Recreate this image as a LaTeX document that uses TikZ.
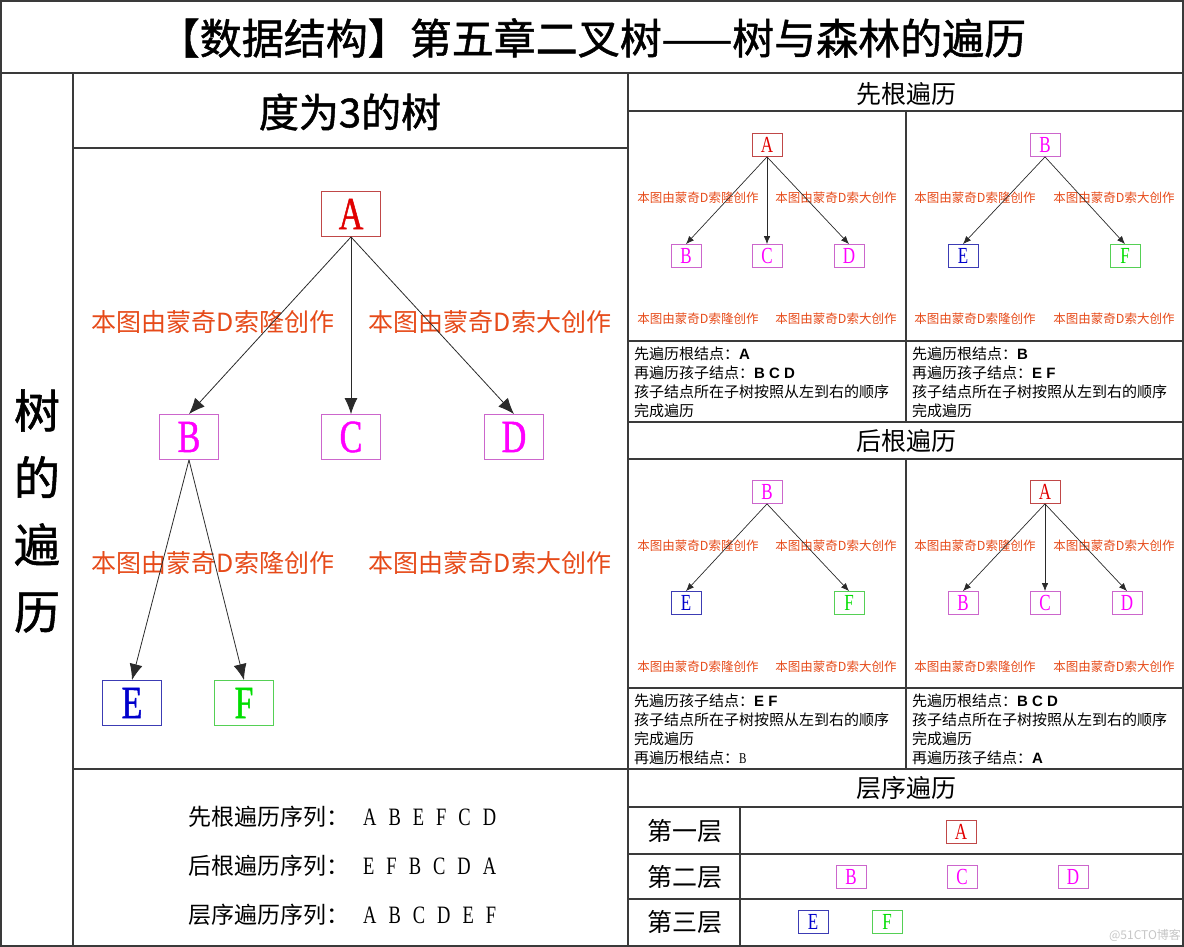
\documentclass[tikz,border=0pt]{standalone}
\usepackage{fontspec}
\setmainfont{Liberation Serif}[FakeStretch=0.74]
\newfontfamily\lettersf{Liberation Serif}[FakeStretch=0.74, FakeBold=1]
\newfontfamily\cjk{Noto Sans CJK SC}
\newfontfamily\cjkheavy{Noto Sans CJK SC}[FakeBold=1.2]
\newfontfamily\hei{Liberation Sans}
\usepackage{tikz}
\usetikzlibrary{arrows.meta,positioning}
\definecolor{gridline}{HTML}{3A3A3A}
\definecolor{edgeline}{HTML}{2A2A2A}
\definecolor{credit}{HTML}{E64A19}
\definecolor{rootred}{HTML}{E00000}
\definecolor{rootredline}{HTML}{C04848}
\definecolor{kidpink}{HTML}{FF00FF}
\definecolor{kidpinkline}{HTML}{CC66CC}
\definecolor{leafblue}{HTML}{0000CC}
\definecolor{leafblueline}{HTML}{3C3CB4}
\definecolor{leafgreen}{HTML}{00DD00}
\definecolor{leafgreenline}{HTML}{55D055}
\newcommand{\sz}[1]{\fontsize{#1}{#1}\selectfont}
\newcommand{\gap}{\hspace{12pt}}
\newcommand{\creditpair}[5]{%
    % #1=name, #2=x left, #3=x right, #4=y, #5=style
    \node[#5] (#1l) at (#2,#4) {本图由蒙奇D索隆创作};
    \node[#5] (#1r) at (#3,#4) {本图由蒙奇D索大创作};
}

\begin{document}
\begin{tikzpicture}[x=1pt, y=-1pt,
    cellline/.style={draw=gridline, line width=1.4pt},
    bigtitle/.style={font=\cjkheavy\sz{42}, inner sep=0pt},
    bighead/.style={font=\cjkheavy\sz{40}, inner sep=0pt},
    colhead/.style={font=\cjk\sz{25}, inner sep=0pt},
    bignode/.style={draw, line width=0.9pt, minimum width=59pt, minimum height=45pt, inner sep=0pt, font=\lettersf\sz{46}},
    tinynode/.style={draw, line width=0.8pt, minimum width=30pt, minimum height=23pt, inner sep=0pt, font=\sz{23}},
    redn/.style={text=rootred, draw=rootredline},
    pinkn/.style={text=kidpink, draw=kidpinkline},
    bluen/.style={text=leafblue, draw=leafblueline},
    greenn/.style={text=leafgreen, draw=leafgreenline},
    bigcredit/.style={text=credit, font=\cjk\sz{25}, inner sep=0pt},
    tinycredit/.style={text=credit, font=\cjk\sz{12.5}, inner sep=0pt},
    bigarr/.style={draw=edgeline, line width=0.8pt, -{Latex[length=16pt,width=13pt]}},
    tinyarr/.style={draw=edgeline, line width=0.7pt, -{Latex[length=8pt,width=6.5pt]}},
    note/.style={font=\cjk\fontsize{15}{19}\selectfont, align=left, anchor=west, inner sep=0pt},
    seqline/.style={font=\sz{25}, anchor=west, inner sep=0pt},
    levellabel/.style={font=\cjk\sz{25}, inner sep=0pt}
]
    \useasboundingbox (0,0) rectangle (1184,947);

    % table frame
    \draw[cellline] (1,1) rectangle (1183,946);
    \draw[cellline] (1,73) -- (1183,73);
    \draw[cellline] (73,73) -- (73,946);
    \draw[cellline] (628,73) -- (628,946);
    \draw[cellline] (73,148) -- (628,148);
    \draw[cellline] (73,769) -- (1183,769);
    \draw[cellline] (628,111) -- (1183,111);
    \draw[cellline] (906,111) -- (906,422);
    \draw[cellline] (628,341) -- (1183,341);
    \draw[cellline] (628,422) -- (1183,422);
    \draw[cellline] (628,459) -- (1183,459);
    \draw[cellline] (906,459) -- (906,769);
    \draw[cellline] (628,688) -- (1183,688);
    \draw[cellline] (628,807) -- (1183,807);
    \draw[cellline] (740,807) -- (740,946);
    \draw[cellline] (628,854) -- (1183,854);
    \draw[cellline] (628,899) -- (1183,899);

    \node[bigtitle] (title) at (592,38) {【数据结构】第五章二叉树——树与森林的遍历};
    \node[font=\cjkheavy\fontsize{46}{67}\selectfont, align=center, inner sep=0pt] (side) at (37,511) {树\\的\\遍\\历};
    \node[bighead] (treehead) at (350,112) {度为3的树};

    % tree of degree 3
    \creditpair{mwa}{213}{490}{322}{bigcredit}
    \creditpair{mwb}{213}{490}{563}{bigcredit}
    \node[bignode, redn] (A) at (351,214) {A};
    \node[bignode, pinkn] (B) at (189,437) {B};
    \node[bignode, pinkn] (C) at (351,437) {C};
    \node[bignode, pinkn] (D) at (514,437) {D};
    \node[bignode, bluen] (E) at (132,703) {E};
    \node[bignode, greenn] (F) at (244,703) {F};
    \draw[bigarr] (A.south) -- (B.north);
    \draw[bigarr] (A.south) -- (C.north);
    \draw[bigarr] (A.south) -- (D.north);
    \draw[bigarr] (B.south) -- (E.north);
    \draw[bigarr] (B.south) -- (F.north);

    \node[seqline] (seqpre) at (188,817) {{\cjk\sz{23}先根遍历序列：}\hspace{14pt}A\gap B\gap E\gap F\gap C\gap D};
    \node[seqline] (seqpost) at (188,866) {{\cjk\sz{23}后根遍历序列：}\hspace{14pt}E\gap F\gap B\gap C\gap D\gap A};
    \node[seqline] (seqlevel) at (188,915) {{\cjk\sz{23}层序遍历序列：}\hspace{14pt}A\gap B\gap C\gap D\gap E\gap F};

    % preorder
    \node[colhead] (prehead) at (906,94) {先根遍历};
    \creditpair{pwa}{698}{836}{198}{tinycredit}
    \creditpair{pwb}{698}{836}{319}{tinycredit}
    \creditpair{pwc}{975}{1114}{198}{tinycredit}
    \creditpair{pwd}{975}{1114}{319}{tinycredit}
    \node[tinynode, redn] (pre1A) at (767,145) {A};
    \node[tinynode, pinkn] (pre1B) at (686,256) {B};
    \node[tinynode, pinkn] (pre1C) at (767,256) {C};
    \node[tinynode, pinkn] (pre1D) at (849,256) {D};
    \node[tinynode, pinkn] (pre2B) at (1045,145) {B};
    \node[tinynode, bluen] (pre2E) at (963,256) {E};
    \node[tinynode, greenn] (pre2F) at (1125,256) {F};
    \draw[tinyarr] (pre1A.south) -- (pre1B.north);
    \draw[tinyarr] (pre1A.south) -- (pre1C.north);
    \draw[tinyarr] (pre1A.south) -- (pre1D.north);
    \draw[tinyarr] (pre2B.south) -- (pre2E.north);
    \draw[tinyarr] (pre2B.south) -- (pre2F.north);
    \node[note] (prenote1) at (634,382) {先遍历根结点：{\hei\bfseries A}\\再遍历孩子结点：{\hei\bfseries B C D}\\孩子结点所在子树按照从左到右的顺序\\完成遍历};
    \node[note] (prenote2) at (912,382) {先遍历根结点：{\hei\bfseries B}\\再遍历孩子结点：{\hei\bfseries E F}\\孩子结点所在子树按照从左到右的顺序\\完成遍历};

    % postorder
    \node[colhead] (posthead) at (906,441) {后根遍历};
    \creditpair{qwa}{698}{836}{546}{tinycredit}
    \creditpair{qwb}{698}{836}{667}{tinycredit}
    \creditpair{qwc}{975}{1114}{546}{tinycredit}
    \creditpair{qwd}{975}{1114}{667}{tinycredit}
    \node[tinynode, pinkn] (post1B) at (767,492) {B};
    \node[tinynode, bluen] (post1E) at (686,603) {E};
    \node[tinynode, greenn] (post1F) at (849,603) {F};
    \node[tinynode, redn] (post2A) at (1045,492) {A};
    \node[tinynode, pinkn] (post2B) at (963,603) {B};
    \node[tinynode, pinkn] (post2C) at (1045,603) {C};
    \node[tinynode, pinkn] (post2D) at (1127,603) {D};
    \draw[tinyarr] (post1B.south) -- (post1E.north);
    \draw[tinyarr] (post1B.south) -- (post1F.north);
    \draw[tinyarr] (post2A.south) -- (post2B.north);
    \draw[tinyarr] (post2A.south) -- (post2C.north);
    \draw[tinyarr] (post2A.south) -- (post2D.north);
    \node[note] (postnote1) at (634,729) {先遍历孩子结点：{\hei\bfseries E F}\\孩子结点所在子树按照从左到右的顺序\\完成遍历\\再遍历根结点：{\rmfamily B}};
    \node[note] (postnote2) at (912,729) {先遍历根结点：{\hei\bfseries B C D}\\孩子结点所在子树按照从左到右的顺序\\完成遍历\\再遍历孩子结点：{\hei\bfseries A}};

    % level order
    \node[colhead] (levelhead) at (906,788) {层序遍历};
    \node[levellabel] (lev1) at (685,831) {第一层};
    \node[levellabel] (lev2) at (685,877) {第二层};
    \node[levellabel] (lev3) at (685,922) {第三层};
    \node[tinynode, redn] (lvA) at (961,832) {A};
    \node[tinynode, pinkn] (lvB) at (851,877) {B};
    \node[tinynode, pinkn] (lvC) at (962,877) {C};
    \node[tinynode, pinkn] (lvD) at (1073,877) {D};
    \node[tinynode, bluen] (lvE) at (813,922) {E};
    \node[tinynode, greenn] (lvF) at (887,922) {F};

    \node[text=gray!45, font=\cjk\sz{12}, inner sep=0pt] (stamp) at (1145,935) {@51CTO博客};
\end{tikzpicture}
\end{document}
